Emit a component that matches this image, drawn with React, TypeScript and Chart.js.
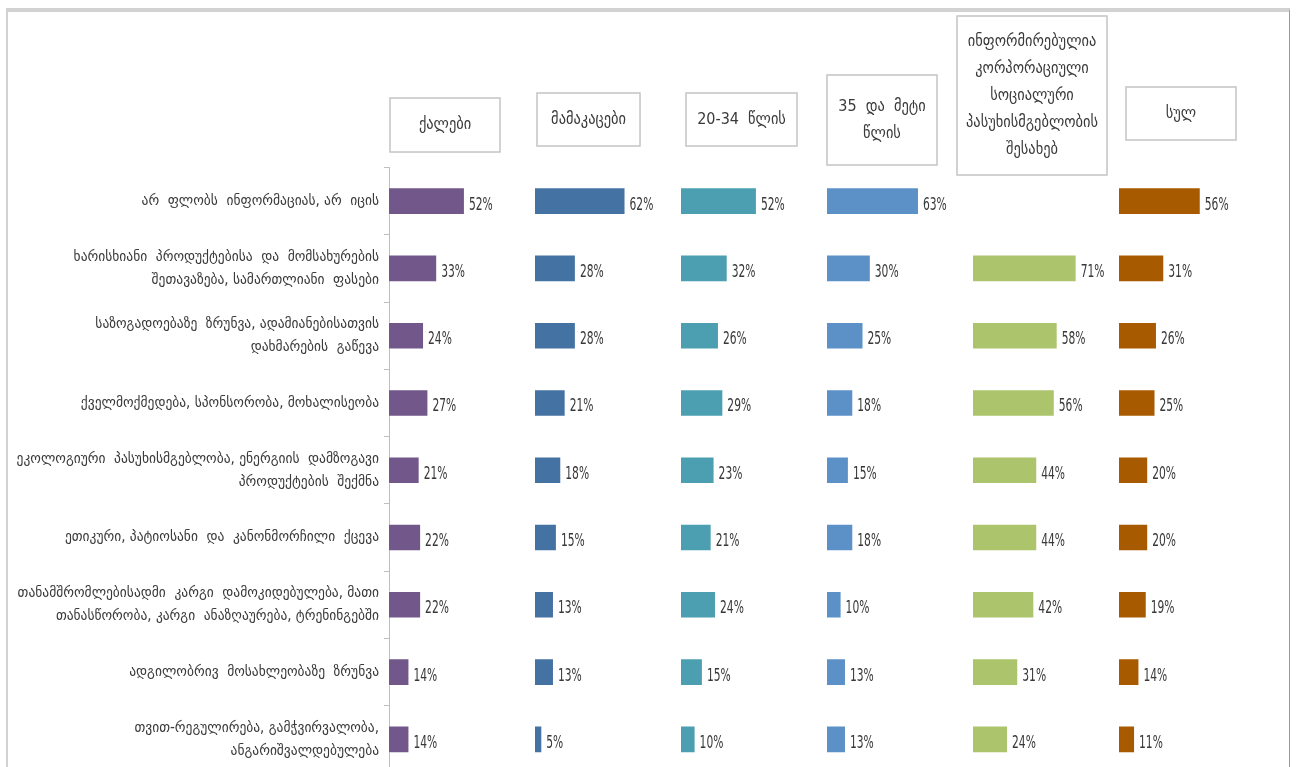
import React, { useEffect, useRef } from 'react';
import { Chart, registerables } from 'chart.js';

Chart.register(...registerables);

// ---------- DATA ----------
const categories: (string | string[])[] = [
  'არ  ფლობს  ინფორმაციას, არ  იცის',
  ['ხარისხიანი  პროდუქტებისა  და  მომსახურების', 'შეთავაზება, სამართლიანი  ფასები'],
  ['საზოგადოებაზე  ზრუნვა, ადამიანებისათვის', 'დახმარების  გაწევა'],
  'ქველმოქმედება, სპონსორობა, მოხალისეობა',
  ['ეკოლოგიური  პასუხისმგებლობა, ენერგიის  დამზოგავი', 'პროდუქტების  შექმნა'],
  'ეთიკური, პატიოსანი  და  კანონმორჩილი  ქცევა',
  ['თანამშრომლებისადმი  კარგი  დამოკიდებულება, მათი', 'თანასწორობა, კარგი  ანაზღაურება, ტრენინგებში'],
  'ადგილობრივ  მოსახლეობაზე  ზრუნვა',
  ['თვით-რეგულირება, გამჭვირვალობა,', 'ანგარიშვალდებულება'],
];

const panelTitles: string[][] = [
  ['ქალები'],
  ['მამაკაცები'],
  ['20-34  წლის'],
  ['35  და  მეტი', 'წლის'],
  ['ინფორმირებულია', 'კორპორაციული', 'სოციალური', 'პასუხისმგებლობის', 'შესახებ'],
  ['სულ'],
];

const women: (number | null)[] = [52, 33, 24, 27, 21, 22, 22, 14, 14];
const men: (number | null)[] = [62, 28, 28, 21, 18, 15, 13, 13, 5];
const age20to34: (number | null)[] = [52, 32, 26, 29, 23, 21, 24, 15, 10];
const age35plus: (number | null)[] = [63, 30, 25, 18, 15, 18, 10, 13, 13];
const informedCSR: (number | null)[] = [null, 71, 58, 56, 44, 44, 42, 31, 24];
const totalAll: (number | null)[] = [56, 31, 26, 25, 20, 20, 19, 14, 11];

const seriesList = [women, men, age20to34, age35plus, informedCSR, totalAll];
const seriesColors = ['#71578A', '#4472A2', '#4B9FB0', '#5B91C7', '#ACC46B', '#A85A00'];

const GEO_FONT = '"DejaVu Sans Condensed", "DejaVu Sans", sans-serif';
const NUM_FONT = '"DejaVu Sans Condensed", "DejaVu Sans", sans-serif';

// header box geometry relative to each panel's scale (left offset, right offset, top, bottom)
const headerGeom = [
  { l: 1, r: 111, t: 98, b: 152 },
  { l: 2, r: 105, t: 93, b: 146 },
  { l: 5, r: 116, t: 93, b: 146 },
  { l: 0, r: 110, t: 75, b: 165 },
  { l: -16, r: 134, t: 16, b: 175 },
  { l: 7, r: 117, t: 87, b: 140 },
];

const headerPlugin = {
  id: 'panelHeaders',
  afterDraw(chart: any) {
    const ctx = chart.ctx;
    ctx.save();
    panelTitles.forEach((lines, i) => {
      const sc = chart.scales['x' + i];
      if (!sc) return;
      const g = headerGeom[i];
      const x0 = sc.left + g.l;
      const x1 = sc.left + g.r;
      ctx.strokeStyle = '#c4c4c4';
      ctx.lineWidth = 1.5;
      ctx.strokeRect(x0, g.t, x1 - x0, g.b - g.t);
      ctx.fillStyle = '#3a3a3a';
      ctx.font = '16px ' + GEO_FONT;
      ctx.textAlign = 'center';
      ctx.textBaseline = 'middle';
      const lh = 27;
      const cy = (g.t + g.b) / 2;
      const cx = (x0 + x1) / 2;
      lines.forEach((ln, k) => {
        ctx.fillText(ln, cx, cy + (k - (lines.length - 1) / 2) * lh);
      });
    });
    ctx.restore();
  },
};

const valueLabelPlugin = {
  id: 'valueLabels',
  afterDatasetsDraw(chart: any) {
    const ctx = chart.ctx;
    chart.data.datasets.forEach((ds: any, di: number) => {
      const meta = chart.getDatasetMeta(di);
      meta.data.forEach((el: any, idx: number) => {
        const v = ds.data[idx];
        if (v === null || v === undefined) return;
        ctx.save();
        ctx.font = '17px ' + NUM_FONT;
        ctx.fillStyle = '#383838';
        ctx.textAlign = 'left';
        ctx.textBaseline = 'middle';
        ctx.translate(el.x + 4, el.y + 4);
        ctx.scale(0.7, 1);
        ctx.fillText(v + '%', 0, 0);
        ctx.restore();
      });
    });
  },
};

export default function App() {
  const canvasRef = useRef<HTMLCanvasElement | null>(null);

  useEffect(() => {
    if (!canvasRef.current) return;
    const scales: any = {
      y: {
        type: 'category',
        position: 'left',
        afterFit: (s: any) => {
          s.width = 389;
        },
        grid: {
          display: true,
          drawOnChartArea: false,
          drawTicks: true,
          tickLength: 5,
          color: '#c0c0c0',
          offset: true,
        },
        border: { display: true, color: '#bdbdbd', width: 1 },
        ticks: {
          autoSkip: false,
          padding: 5,
          color: '#3a3a3a',
          font: { family: GEO_FONT, size: 15, lineHeight: 1.55 },
        },
      },
    };
    seriesList.forEach((_, i) => {
      scales['x' + i] = {
        type: 'linear',
        axis: 'x',
        position: 'bottom',
        stack: 'panels',
        stackWeight: 1,
        min: 0,
        max: 100,
        display: false,
        grid: { display: false },
      };
    });

    const chart = new Chart(canvasRef.current, {
      type: 'bar',
      data: {
        labels: categories as any,
        datasets: seriesList.map((data, i) => ({
          label: panelTitles[i].join(' '),
          data: data as any,
          xAxisID: 'x' + i,
          yAxisID: 'y',
          backgroundColor: seriesColors[i],
          borderColor: 'rgba(255,255,255,0.5)',
          borderWidth: 1,
          grouped: false,
          barPercentage: 0.41,
          categoryPercentage: 1,
        })),
      },
      options: {
        indexAxis: 'y',
        animation: false,
        responsive: false,
        maintainAspectRatio: false,
        layout: { padding: { top: 167.5, right: 32, bottom: 27, left: 0 } },
        plugins: {
          legend: { display: false },
          tooltip: { enabled: false },
          title: { display: false },
        },
        scales,
      },
      plugins: [headerPlugin, valueLabelPlugin],
    } as any);
    return () => chart.destroy();
  }, []);

  return (
    <div
      style={{
        position: 'fixed',
        left: 0,
        top: 0,
        width: 1297,
        height: 767,
        overflow: 'hidden',
        background: '#ffffff',
      }}
    >
      <div
        style={{
          position: 'absolute',
          left: 6,
          top: 8,
          width: 1281,
          height: 900,
          borderTop: '4px solid #d2d2d2',
          borderLeft: '2px solid #d2d2d2',
          borderRight: '1px solid #9a9a9a',
          boxSizing: 'content-box',
        }}
      />
      <canvas
        ref={canvasRef}
        width={1297}
        height={800}
        style={{ position: 'absolute', left: 0, top: 0, width: 1297, height: 800 }}
      />
    </div>
  );
}
